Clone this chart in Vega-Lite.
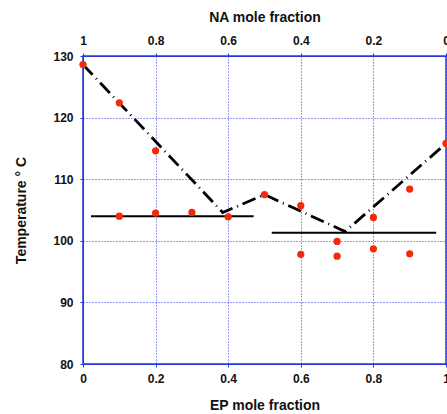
{
  "$schema": "https://vega.github.io/schema/vega-lite/v6.json",
  "width": 363,
  "height": 308,
  "autosize": {"type": "none"},
  "padding": {"left": 83, "top": 56, "right": 1, "bottom": 50},
  "background": "white",
  "config": {
    "view": {"stroke": "#2536e0", "strokeWidth": 1.5},
    "font": "Liberation Sans",
    "axis": {
      "labelFont": "Liberation Sans",
      "labelFontWeight": "bold",
      "labelFontSize": 12,
      "labelColor": "#111111",
      "labelFlush": false,
      "titleFont": "Liberation Sans",
      "titleFontWeight": "bold",
      "titleFontSize": 14,
      "titleColor": "#111111",
      "domainColor": "#2536e0",
      "tickColor": "#2536e0",
      "tickSize": 3,
      "gridColor": "#2a3ce6",
      "gridDash": [1, 2],
      "gridOpacity": 1,
      "gridWidth": 1
    }
  },
  "datasets": {
    "points": [
      {"ep": 0.0, "t": 128.6},
      {"ep": 0.1, "t": 122.4},
      {"ep": 0.2, "t": 114.6},
      {"ep": 0.1, "t": 104.0},
      {"ep": 0.2, "t": 104.5},
      {"ep": 0.3, "t": 104.6},
      {"ep": 0.4, "t": 103.9},
      {"ep": 0.5, "t": 107.5},
      {"ep": 0.6, "t": 105.7},
      {"ep": 0.6, "t": 97.8},
      {"ep": 0.7, "t": 99.9},
      {"ep": 0.7, "t": 97.5},
      {"ep": 0.8, "t": 103.8},
      {"ep": 0.8, "t": 98.7},
      {"ep": 0.9, "t": 108.4},
      {"ep": 0.9, "t": 97.9},
      {"ep": 1.0, "t": 115.8}
    ],
    "liquidus": [
      {"ep": 0.0, "t": 128.6},
      {"ep": 0.385, "t": 104.6},
      {"ep": 0.5, "t": 107.5},
      {"ep": 0.722, "t": 101.5},
      {"ep": 1.0, "t": 115.8}
    ],
    "eutectic": [
      {"ep": 0.022, "ep2": 0.47, "t": 104.0},
      {"ep": 0.52, "ep2": 0.973, "t": 101.3}
    ]
  },
  "layer": [
    {
      "data": {"name": "liquidus"},
      "mark": {"type": "line", "color": "black", "strokeWidth": 2.8, "strokeDash": [14, 5, 1, 5], "clip": true},
      "encoding": {
        "x": {
          "field": "ep", "type": "quantitative",
          "scale": {"domain": [0, 1], "nice": false},
          "axis": {
            "orient": "bottom", "title": "EP mole fraction",
            "values": [0, 0.2, 0.4, 0.6, 0.8, 1],
            "labelExpr": "format(datum.value, '~g')",
            "grid": true, "labelPadding": 6, "titlePadding": 14
          }
        },
        "y": {
          "field": "t", "type": "quantitative",
          "scale": {"domain": [80, 130], "nice": false},
          "axis": {
            "title": "Temperature ° C",
            "values": [80, 90, 100, 110, 120, 130],
            "grid": true, "labelPadding": 7, "titlePadding": 24
          }
        }
      }
    },
    {
      "data": {"name": "eutectic"},
      "mark": {"type": "rule", "color": "black", "strokeWidth": 2},
      "encoding": {
        "x": {
          "field": "ep", "type": "quantitative",
          "scale": {"domain": [0, 1], "nice": false},
          "axis": {
            "orient": "top", "title": "NA mole fraction",
            "values": [0, 0.2, 0.4, 0.6, 0.8, 1],
            "labelExpr": "format(1 - datum.value, '~g')",
            "grid": false, "labelPadding": 6, "titlePadding": 10
          }
        },
        "x2": {"field": "ep2"},
        "y": {"field": "t", "type": "quantitative"}
      }
    },
    {
      "data": {"name": "points"},
      "mark": {"type": "circle", "color": "#f02a0a", "size": 52, "opacity": 1},
      "encoding": {
        "x": {"field": "ep", "type": "quantitative", "axis": null},
        "y": {"field": "t", "type": "quantitative"}
      }
    }
  ],
  "resolve": {"axis": {"x": "independent"}}
}
